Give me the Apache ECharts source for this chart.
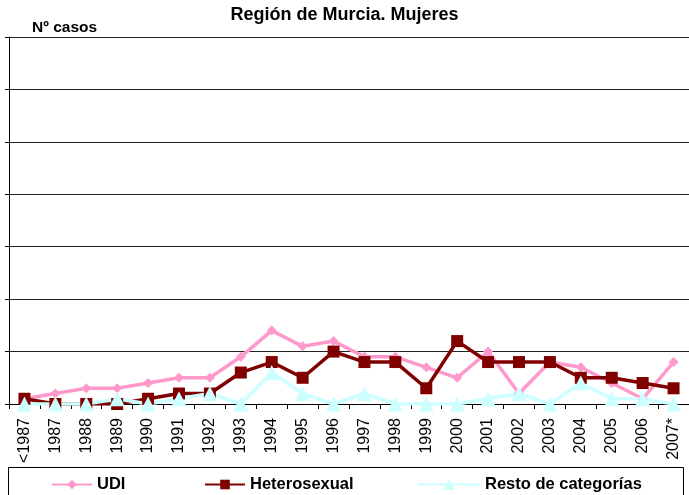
<!DOCTYPE html>
<html>
<head>
<meta charset="utf-8">
<script src="https://cdn.jsdelivr.net/npm/echarts@6/dist/echarts.min.js"></script>
<style>
  html, body { margin: 0; padding: 0; background: #fff; }
  #chart { width: 689px; height: 495px; }
</style>
</head>
<body>
<div id="chart"></div>
<script>
// categorías (años)
var years = ['<1987', '1987', '1988', '1989', '1990', '1991', '1992', '1993', '1994', '1995', '1996',
  '1997', '1998', '1999', '2000', '2001', '2002', '2003', '2004', '2005', '2006', '2007*']

// nº de casos por categoría de transmisión
var udi = [1, 2, 3, 3, 4, 5, 5, 9, 14, 11, 12, 9, 9, 7, 5, 10, 2, 8, 7, 4, 1, 8]
var hetero = [1, 0, 0, 0, 1, 2, 2, 6, 8, 5, 10, 8, 8, 3, 12, 8, 8, 8, 5, 5, 4, 3]
var resto = [0, 0, 0, 1, 0, 1, 2, 0, 6, 2, 0, 2, 0, 0, 0, 1, 2, 0, 4, 1, 1, 0]

var font = 'Liberation Sans, Arial, sans-serif'
var legendText = { fontFamily: font, fontSize: 16.5, fontWeight: 'bold', color: '#000' }

var chart = echarts.init(document.getElementById('chart'))

chart.setOption({
  animation: false,
  title: [
    {
      text: 'Región de Murcia. Mujeres',
      left: 'center',
      top: 1,
      textStyle: { fontFamily: font, fontSize: 18, fontWeight: 'bold', color: '#000' }
    },
    {
      text: 'Nº casos',
      left: 27,
      top: 15,
      textStyle: { fontFamily: font, fontSize: 15.5, fontWeight: 'bold', color: '#000' }
    }
  ],
  grid: {
    left: 9,
    top: 37,
    width: 689,
    height: 367,
    containLabel: false
  },
  legend: [
    {
      data: ['UDI'],
      left: 46, top: 471,
      itemWidth: 40, itemHeight: 12,
      textStyle: legendText
    },
    {
      data: ['Heterosexual'],
      left: 199, top: 471,
      itemWidth: 40, itemHeight: 12,
      textStyle: legendText
    },
    {
      data: ['Resto de categorías'],
      left: 412, top: 471,
      itemWidth: 62, itemHeight: 14,
      textStyle: legendText
    }
  ],
  graphic: [
    {
      type: 'rect',
      shape: { x: 8.5, y: 467.5, width: 675, height: 40 },
      style: { fill: 'none', stroke: '#000', lineWidth: 1 },
      silent: true
    }
  ],
  xAxis: {
    type: 'category',
    data: years,
    boundaryGap: true,
    axisLine: { lineStyle: { color: '#000', width: 1 } },
    axisTick: { show: true, length: 5, inside: false, lineStyle: { color: '#000' } },
    axisLabel: {
      rotate: 90,
      interval: 0,
      margin: 14,
      fontFamily: font,
      fontSize: 16,
      color: '#000'
    }
  },
  yAxis: {
    type: 'value',
    min: 0,
    max: 70,
    interval: 10,
    axisLine: { show: true, lineStyle: { color: '#000', width: 1 } },
    axisTick: { show: true, length: 4, lineStyle: { color: '#000' } },
    axisLabel: { show: false },
    splitLine: { show: true, lineStyle: { color: '#222', width: 1 } }
  },
  series: [
    {
      name: 'UDI',
      type: 'line',
      data: udi,
      symbol: 'diamond',
      symbolSize: 10,
      lineStyle: { color: '#FF99CC', width: 3.5 },
      itemStyle: { color: '#FF99CC' }
    },
    {
      name: 'Heterosexual',
      type: 'line',
      data: hetero,
      symbol: 'rect',
      symbolSize: 12,
      lineStyle: { color: '#800000', width: 3.5 },
      itemStyle: { color: '#800000' }
    },
    {
      name: 'Resto de categorías',
      type: 'line',
      data: resto,
      symbol: 'triangle',
      symbolSize: 15,
      lineStyle: { color: '#CCFFFF', width: 3.5 },
      itemStyle: { color: '#CCFFFF' }
    }
  ]
})
</script>
</body>
</html>
